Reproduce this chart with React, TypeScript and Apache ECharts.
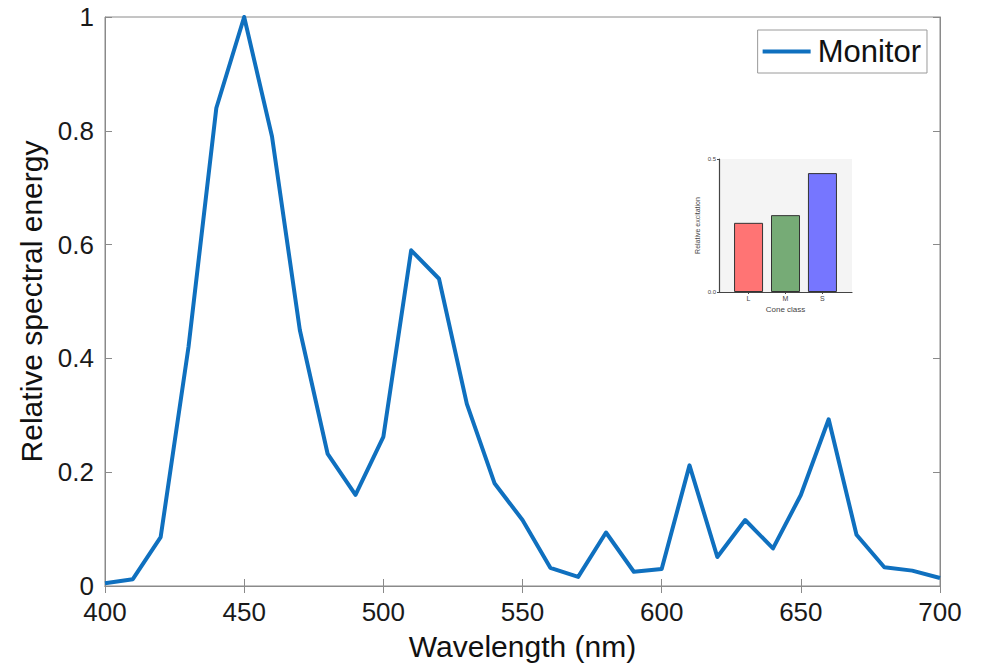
import React, { useEffect, useRef } from "react";
import * as echarts from "echarts";

const wavelengths = [400, 410, 420, 430, 440, 450, 460, 470, 480, 490, 500, 510, 520, 530, 540, 550, 560, 570, 580, 590, 600, 610, 620, 630, 640, 650, 660, 670, 680, 690, 700];
const energy = [0.005, 0.012, 0.086, 0.42, 0.84, 1.0, 0.79, 0.45, 0.232, 0.16, 0.262, 0.59, 0.54, 0.32, 0.18, 0.116, 0.032, 0.016, 0.094, 0.025, 0.03, 0.212, 0.051, 0.116, 0.066, 0.16, 0.293, 0.09, 0.033, 0.027, 0.014];
const cones = ["L", "M", "S"];
const excitation = [0.26, 0.289, 0.447];
const coneColors = ["#ff7474", "#76ab76", "#7676ff"];

export default function App() {
  const ref = useRef<HTMLDivElement>(null);
  useEffect(() => {
    if (!ref.current) return;
    const chart = echarts.init(ref.current, null, { renderer: "svg" });
    const font = "Liberation Sans, Arial, Helvetica, sans-serif";
    const axisGray = "#8a8a8a";
    chart.setOption({
      animation: false,
      backgroundColor: "#ffffff",
      textStyle: { fontFamily: font },
      legend: {
        data: ["Monitor"],
        right: 60,
        top: 30,
        padding: [6, 6, 6, 5],
        itemGap: 0,
        itemWidth: 48,
        itemHeight: 4,
        icon: "rect",
        borderColor: "#9a9a9a",
        borderWidth: 1,
        backgroundColor: "#ffffff",
        textStyle: { fontSize: 31, color: "#111", fontFamily: font, padding: [0, 0, 0, 2] },
      },
      grid: [
        { left: 105, top: 17, right: 47, bottom: 84, show: true, borderColor: axisGray, borderWidth: 1, backgroundColor: "transparent" },
        { left: 719, top: 159, width: 133, height: 133, show: true, borderWidth: 0, backgroundColor: "#f4f4f4" },
      ],
      xAxis: [
        {
          type: "value", gridIndex: 0, min: 400, max: 700, interval: 50,
          name: "Wavelength (nm)", nameLocation: "middle", nameGap: 45,
          nameTextStyle: { fontSize: 30, color: "#111", fontFamily: font },
          axisLine: { show: true, lineStyle: { color: axisGray, width: 1 } },
          axisTick: { show: true, inside: true, length: 7, lineStyle: { color: axisGray } },
          axisLabel: { fontSize: 26, color: "#1a1a1a", margin: 13, fontFamily: font },
          splitLine: { show: false },
        },
        {
          type: "value", gridIndex: 0, position: "top", min: 400, max: 700, interval: 50,
          axisLine: { show: true, lineStyle: { color: axisGray, width: 1 } },
          axisTick: { show: true, inside: true, length: 7, lineStyle: { color: axisGray } },
          axisLabel: { show: false },
          splitLine: { show: false },
        },
        {
          type: "value", gridIndex: 1, min: -0.8, max: 2.8,
          name: "Cone class", nameLocation: "middle", nameGap: 13,
          nameTextStyle: { fontSize: 8, color: "#444444", fontFamily: font },
          axisLine: { show: true, onZero: false, lineStyle: { color: "#444", width: 1.2 } },
          axisTick: { show: true, length: 2, customValues: [0, 1, 2], lineStyle: { color: "#444" } },
          axisLabel: {
            fontSize: 7, color: "#444444", margin: 3, customValues: [0, 1, 2],
            formatter: (v: number) => cones[Math.round(v)] ?? "",
          },
          splitLine: { show: false },
        },
      ],
      yAxis: [
        {
          type: "value", gridIndex: 0, min: 0, max: 1, interval: 0.2,
          name: "Relative spectral energy", nameLocation: "middle", nameGap: 50,
          nameTextStyle: { fontSize: 30, color: "#111", fontFamily: font },
          axisLine: { show: true, lineStyle: { color: axisGray, width: 1 } },
          axisTick: { show: true, inside: true, length: 7, lineStyle: { color: axisGray } },
          axisLabel: { fontSize: 26, color: "#1a1a1a", margin: 11, fontFamily: font, formatter: (v: number) => (v === 0 || v === 1 ? String(v) : v.toFixed(1)) },
          splitLine: { show: false },
        },
        {
          type: "value", gridIndex: 0, position: "right", min: 0, max: 1, interval: 0.2,
          axisLine: { show: true, lineStyle: { color: axisGray, width: 1 } },
          axisTick: { show: true, inside: true, length: 7, lineStyle: { color: axisGray } },
          axisLabel: { show: false },
          splitLine: { show: false },
        },
        {
          type: "value", gridIndex: 1, min: 0, max: 0.5, interval: 0.5,
          name: "Relative excitation", nameLocation: "middle", nameGap: 18,
          nameTextStyle: { fontSize: 7, color: "#444444", fontFamily: font },
          axisLine: { show: true, onZero: false, lineStyle: { color: "#444", width: 1.2 } },
          axisTick: { show: true, length: 2, lineStyle: { color: "#444" } },
          axisLabel: { fontSize: 6, color: "#444444", margin: 3, formatter: (v: number) => v.toFixed(1) },
          splitLine: { show: false },
        },
      ],
      series: [
        {
          name: "Monitor",
          type: "line",
          xAxisIndex: 0,
          yAxisIndex: 0,
          data: wavelengths.map((w, i) => [w, energy[i]]),
          showSymbol: false,
          symbol: "none",
          color: "#0f70bf",
          lineStyle: { width: 4, color: "#0f70bf", join: "round" },
        },
        {
          name: "Cones",
          type: "bar",
          xAxisIndex: 2,
          yAxisIndex: 2,
          barWidth: 29,
          data: excitation.map((v, i) => ({
            value: [i, v],
            itemStyle: { color: coneColors[i], borderColor: "#333", borderWidth: 1 },
          })),
        },
      ],
    });
    return () => chart.dispose();
  }, []);
  return <div ref={ref} style={{ position: "fixed", left: 0, top: 0, width: 987, height: 670 }} />;
}
